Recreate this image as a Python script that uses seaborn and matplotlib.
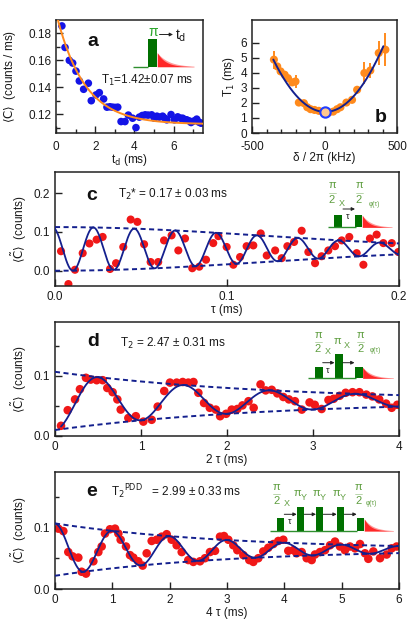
import numpy as np
import pandas as pd
import matplotlib
matplotlib.use("Agg")
import matplotlib.pyplot as plt
import seaborn as sns
from matplotlib.patches import Rectangle
from matplotlib.ticker import MultipleLocator, FixedLocator

# ---------------- data ----------------
# panel a: photon rate vs delay
t_a = [0.30, 0.46, 0.68, 0.85, 1.02, 1.19, 1.41, 1.65, 1.80, 2.04, 2.21, 2.43, 2.60, 2.75,
       2.89, 3.02, 3.15, 3.32, 3.52, 3.69, 3.91, 4.08, 4.25, 4.40, 4.55, 4.70, 4.88, 5.02,
       5.15, 5.27, 5.44, 5.55, 5.65, 5.87, 6.04, 6.21, 6.35, 6.46, 6.57, 6.67, 6.80, 6.89,
       7.05, 7.18, 7.30, 7.40]
rate_a = [0.1856, 0.1696, 0.160, 0.158, 0.152, 0.1447, 0.1385, 0.143, 0.130, 0.1343, 0.136,
          0.1313, 0.1252, 0.1255, 0.1252, 0.125, 0.1252, 0.1145, 0.1145, 0.1193, 0.117, 0.110,
          0.1178, 0.119, 0.1195, 0.1193, 0.1195, 0.117, 0.1185, 0.1178, 0.1185, 0.117, 0.1158,
          0.1197, 0.1158, 0.118, 0.117, 0.117, 0.116, 0.1158, 0.115, 0.1138, 0.115, 0.1163,
          0.114, 0.1133]
fit_a_T1 = 1.42
fit_a_amp = 0.083
fit_a_off = 0.1125

# panel b: T1 vs detuning
delta_b = [-349, -326, -303, -275, -252, -222, -200, -177, -142, -119, -96, -69, -39, 30, 60,
           87, 110, 151, 190, 225, 275, 316, 374, 420]
T1_b = [4.87, 4.42, 4.09, 3.87, 3.64, 3.36, 3.42, 2.02, 1.98, 1.71, 1.58, 1.53, 1.47, 1.36,
        1.42, 1.58, 1.71, 2.02, 2.20, 2.87, 3.98, 4.15, 5.31, 5.53]
err_b = [0.6, 0.2, 0.2, 0.2, 0.2, 0.2, 0.45, 0.2, 0.2, 0.15, 0.15, 0.15, 0.15, 0.15, 0.15,
         0.15, 0.15, 0.2, 0.2, 0.25, 0.7, 0.5, 0.8, 1.1]
ref_b_delta = [0]
ref_b_T1 = [1.40]
fit_b_T0 = 1.40
fit_b_d0 = 5.0
fit_b_k = 2.71e-5
fit_b_range = (-353, 406)

# panel c: Ramsey
tau_c = [0.0035, 0.0078, 0.0116, 0.0161, 0.0200, 0.0242, 0.0277, 0.0320, 0.0355, 0.0397,
         0.0440, 0.0479, 0.0518, 0.0556, 0.0600, 0.0634, 0.0678, 0.0717, 0.0756, 0.0798,
         0.0839, 0.0878, 0.0920, 0.0950, 0.0998, 0.1037, 0.1076, 0.1114, 0.1153, 0.1196,
         0.1231, 0.1280, 0.1318, 0.1351, 0.1390, 0.1434, 0.1473, 0.1512, 0.1550, 0.1589,
         0.1628, 0.1667, 0.1711, 0.1754, 0.1793, 0.1831, 0.1870, 0.1909, 0.1958, 0.1996]
C_c = [0.050, -0.035, 0.002, 0.045, 0.070, 0.080, 0.087, 0.004, 0.019, 0.061,
       0.132, 0.126, 0.068, 0.022, 0.022, 0.078, 0.091, 0.052, 0.083, 0.006,
       0.010, 0.028, 0.071, 0.089, 0.061, 0.015, 0.035, 0.063, 0.065, 0.096,
       0.039, 0.052, 0.032, 0.063, 0.074, 0.103, 0.048, 0.019, 0.037, 0.052,
       0.063, 0.078, 0.087, 0.045, 0.015, 0.083, 0.093, 0.071, 0.071, 0.048]
fit_c_off, fit_c_amp, fit_c_T2s, fit_c_period, fit_c_t0 = 0.056, 0.0565, 0.17, 0.0238, -0.0015

# panel d: Hahn echo
t2_d = [0.07, 0.148, 0.233, 0.29, 0.36, 0.415, 0.485, 0.555, 0.608, 0.67, 0.725, 0.764, 0.853,
        0.94, 1.027, 1.124, 1.194, 1.27, 1.337, 1.415, 1.485, 1.55, 1.61, 1.667, 1.733, 1.80,
        1.87, 1.92, 1.99, 2.055, 2.12, 2.18, 2.25, 2.31, 2.39, 2.45, 2.52, 2.585, 2.655, 2.72,
        2.79, 2.87, 2.96, 3.02, 3.10, 3.18, 3.24, 3.31, 3.38, 3.46, 3.54, 3.62, 3.69, 3.77,
        3.85, 3.915, 3.98]
C_d = [0.017, 0.043, 0.061, 0.078, 0.097, 0.094, 0.093, 0.093, 0.080, 0.073, 0.061, 0.044, 0.030,
       0.033, 0.024, 0.027, 0.049, 0.075, 0.089, 0.089, 0.090, 0.089, 0.090, 0.072, 0.055, 0.047,
       0.044, 0.033, 0.037, 0.044, 0.045, 0.051, 0.058, 0.047, 0.086, 0.076, 0.077, 0.071, 0.065,
       0.061, 0.058, 0.044, 0.056, 0.052, 0.045, 0.060, 0.062, 0.067, 0.072, 0.073, 0.073, 0.069,
       0.066, 0.061, 0.054, 0.047, 0.052]
fit_d_off, fit_d_amp, fit_d_T2, fit_d_period = 0.0585, 0.0485, 2.47, 1.0

# panel e: PDD
t4_e = [0.058, 0.145, 0.232, 0.308, 0.407, 0.465, 0.541, 0.669, 0.756, 0.814, 0.872, 0.959,
        1.047, 1.105, 1.145, 1.238, 1.308, 1.366, 1.453, 1.529, 1.599, 1.686, 1.773, 1.86,
        1.948, 2.035, 2.122, 2.21, 2.325, 2.413, 2.529, 2.616, 2.703, 2.791, 2.878, 2.948,
        3.023, 3.11, 3.18, 3.285, 3.389, 3.459, 3.546, 3.633, 3.72, 3.808, 3.895, 3.982,
        4.069, 4.157, 4.215, 4.302, 4.39, 4.477, 4.535, 4.622, 4.709, 4.797, 4.884, 4.971,
        5.058, 5.145, 5.233, 5.32, 5.407, 5.465, 5.552, 5.669, 5.785, 5.872, 5.959]
C_e = [0.098, 0.094, 0.060, 0.053, 0.051, 0.028, 0.025, 0.045, 0.060, 0.069, 0.090, 0.097,
       0.098, 0.090, 0.080, 0.069, 0.055, 0.051, 0.045, 0.038, 0.058, 0.078, 0.080, 0.085,
       0.089, 0.080, 0.071, 0.060, 0.047, 0.044, 0.045, 0.050, 0.060, 0.062, 0.085, 0.086,
       0.080, 0.071, 0.063, 0.055, 0.047, 0.044, 0.050, 0.061, 0.067, 0.073, 0.078, 0.080,
       0.062, 0.063, 0.058, 0.060, 0.050, 0.047, 0.056, 0.060, 0.063, 0.071, 0.077, 0.069,
       0.063, 0.069, 0.066, 0.073, 0.058, 0.049, 0.061, 0.050, 0.056, 0.066, 0.069]
fit_e_off, fit_e_amp, fit_e_T2, fit_e_period = 0.064, 0.0425, 2.99, 1.0

# ---------------- style ----------------
sns.set_theme(style="ticks")
plt.rcParams["font.family"] = ["Liberation Sans", "DejaVu Sans"]
plt.rcParams["axes.unicode_minus"] = False
plt.rcParams["mathtext.fontset"] = "dejavusans"

BLUE = "#1414e6"
ORANGE = "#ff8a1c"
RED = "#f01818"
NAVY = "#14208e"
DKGREEN = "#007000"
LTGREEN = "#5f9e40"
TXT = "#1a1a1a"
FS = 8.5

W, H = 416, 630
fig = plt.figure(figsize=(W / 100, H / 100), dpi=100)
fig.patch.set_facecolor("white")


def rect(l, t, r, b):
    return [l / W, 1 - b / H, (r - l) / W, (b - t) / H]


axa = fig.add_axes(rect(56, 20, 203, 133))
axb = fig.add_axes(rect(252, 20, 397, 133))
axc = fig.add_axes(rect(55, 172, 399, 286))
axd = fig.add_axes(rect(55, 322, 399, 436))
axe = fig.add_axes(rect(55, 472, 399, 589))


def style(ax):
    ax.set_facecolor("white")
    for s in ax.spines.values():
        s.set_visible(True)
        s.set_linewidth(1.1)
        s.set_color("#222222")
    ax.tick_params(which="both", direction="in", width=1.0, labelsize=FS,
                   colors="#222222", labelcolor=TXT, top=False, right=False)
    ax.tick_params(which="major", length=5)
    ax.tick_params(which="minor", length=3)
    ax.grid(False)


def dashed_env(ax, x, y):
    sns.lineplot(x=x, y=y, ax=ax, color=NAVY, lw=1.4, linestyle=(0, (2.6, 1.8)), zorder=3)


# ---- panel a ----
style(axa)
sns.scatterplot(x=t_a, y=rate_a, ax=axa, color=BLUE, s=30, edgecolor="none", zorder=2)
ta_fit = np.linspace(0, 7.5, 300)
sns.lineplot(x=ta_fit, y=fit_a_off + fit_a_amp * np.exp(-ta_fit / fit_a_T1), ax=axa,
             color=ORANGE, lw=1.4, zorder=3)
axa.set_xlim(0, 7.5)
axa.set_ylim(0.106, 0.19)
axa.xaxis.set_major_locator(FixedLocator([0, 2, 4, 6]))
axa.xaxis.set_minor_locator(FixedLocator([1, 3, 5, 7]))
axa.yaxis.set_major_locator(FixedLocator([0.12, 0.14, 0.16, 0.18]))
axa.yaxis.set_minor_locator(FixedLocator([0.11, 0.13, 0.15, 0.17]))
axa.tick_params(axis="x", which="both", pad=6)
axa.set_xlabel(r"t$_\mathrm{d}$ (ms)", fontsize=FS, color=TXT, labelpad=-1)
axa.set_ylabel(r"$\langle\dot{\mathrm{C}}\rangle$  (counts / ms)", fontsize=FS, color=TXT)
axa.yaxis.set_label_coords(-0.25, 0.5)

# ---- panel b ----
style(axb)
axb.errorbar(delta_b, T1_b, yerr=err_b, fmt="none", ecolor=ORANGE, elinewidth=1.4,
             capsize=0, zorder=2)
sns.scatterplot(x=delta_b, y=T1_b, ax=axb, color=ORANGE, s=34, edgecolor="none", zorder=2)
db_fit = np.linspace(fit_b_range[0], fit_b_range[1], 300)
sns.lineplot(x=db_fit, y=fit_b_T0 + fit_b_k * (db_fit - fit_b_d0) ** 2, ax=axb,
             color=NAVY, lw=1.4, zorder=3)
sns.scatterplot(x=ref_b_delta, y=ref_b_T1, ax=axb, marker="o", s=55, facecolor="#ffc890",
                edgecolor="#1f3cff", linewidth=1.5, zorder=4)
axb.set_xlim(-500, 500)
axb.set_ylim(0, 7.5)
axb.xaxis.set_major_locator(FixedLocator([-500, 0, 500]))
axb.xaxis.set_minor_locator(MultipleLocator(100))
axb.yaxis.set_major_locator(FixedLocator([0, 1, 2, 3, 4, 5, 6]))
axb.tick_params(axis="x", which="both", pad=6)
axb.set_xlabel("δ / 2π (kHz)", fontsize=FS, color=TXT, labelpad=-1)
axb.set_ylabel(r"T$_1$ (ms)", fontsize=FS, color=TXT)
axb.yaxis.set_label_coords(-0.105, 0.5)

# ---- panel c ----
style(axc)
sns.scatterplot(x=tau_c, y=C_c, ax=axc, color=RED, s=34, edgecolor="none", zorder=2)
tc = np.linspace(0, 0.2, 800)
env_c = fit_c_amp * np.exp(-(tc / fit_c_T2s) ** 2)
sns.lineplot(x=tc, y=fit_c_off + env_c * np.cos(2 * np.pi * (tc - fit_c_t0) / fit_c_period),
             ax=axc, color=NAVY, lw=1.3, zorder=3)
dashed_env(axc, tc, fit_c_off + env_c)
dashed_env(axc, tc, fit_c_off - env_c)
axc.set_xlim(0, 0.2)
axc.set_ylim(-0.04, 0.255)
axc.xaxis.set_major_locator(FixedLocator([0.0, 0.1, 0.2]))
axc.yaxis.set_major_locator(FixedLocator([0.0, 0.1, 0.2]))
axc.set_xlabel("τ (ms)", fontsize=FS, color=TXT, labelpad=1)
axc.set_ylabel(r"$\langle\tilde{\mathrm{C}}\rangle$  (counts)", fontsize=FS, color=TXT)
axc.yaxis.set_label_coords(-0.075, 0.5)

# ---- panel d ----
style(axd)
sns.scatterplot(x=t2_d, y=C_d, ax=axd, color=RED, s=38, edgecolor="none", zorder=2)
td = np.linspace(0.07, 4.0, 600)
env_d = fit_d_amp * np.exp(-td / fit_d_T2)
sns.lineplot(x=td, y=fit_d_off - env_d * np.cos(2 * np.pi * td / fit_d_period), ax=axd,
             color=NAVY, lw=1.3, zorder=3)
tdd = np.linspace(0, 4.0, 300)
dashed_env(axd, tdd, fit_d_off + fit_d_amp * np.exp(-tdd / fit_d_T2))
dashed_env(axd, tdd, fit_d_off - fit_d_amp * np.exp(-tdd / fit_d_T2))
axd.set_xlim(0, 4)
axd.set_ylim(0, 0.19)
axd.xaxis.set_major_locator(FixedLocator([0, 1, 2, 3, 4]))
axd.yaxis.set_major_locator(FixedLocator([0.0, 0.1]))
axd.yaxis.set_minor_locator(FixedLocator([0.05, 0.15]))
axd.set_xlabel("2 τ (ms)", fontsize=FS, color=TXT, labelpad=1)
axd.set_ylabel(r"$\langle\tilde{\mathrm{C}}\rangle$  (counts)", fontsize=FS, color=TXT)
axd.yaxis.set_label_coords(-0.075, 0.5)

# ---- panel e ----
style(axe)
sns.scatterplot(x=t4_e, y=C_e, ax=axe, color=RED, s=38, edgecolor="none", zorder=2)
te = np.linspace(0, 6.0, 800)
env_e = fit_e_amp * np.exp(-te / fit_e_T2)
sns.lineplot(x=te, y=fit_e_off + env_e * np.cos(2 * np.pi * te / fit_e_period), ax=axe,
             color=NAVY, lw=1.3, zorder=3)
dashed_env(axe, te, fit_e_off + env_e)
dashed_env(axe, te, fit_e_off - env_e)
axe.set_xlim(0, 6)
axe.set_ylim(0, 0.19)
axe.xaxis.set_major_locator(FixedLocator([0, 1, 2, 3, 4, 5, 6]))
axe.yaxis.set_major_locator(FixedLocator([0.0, 0.1]))
axe.yaxis.set_minor_locator(FixedLocator([0.05, 0.15]))
axe.set_xlabel("4 τ (ms)", fontsize=FS, color=TXT, labelpad=1)
axe.set_ylabel(r"$\langle\tilde{\mathrm{C}}\rangle$  (counts)", fontsize=FS, color=TXT)
axe.yaxis.set_label_coords(-0.075, 0.5)

for ax in (axa, axb, axc, axd, axe):
    leg = ax.get_legend()
    if leg is not None:
        leg.remove()

# ---------------- overlay: labels and pulse-sequence insets (pixel coords) ----------------
ov = fig.add_axes([0, 0, 1, 1], zorder=10)
ov.set_xlim(0, W)
ov.set_ylim(H, 0)
ov.axis("off")
ov.patch.set_alpha(0)


def bar(x0, x1, ytop, ybot):
    ov.add_patch(Rectangle((x0, ytop), x1 - x0, ybot - ytop, color=DKGREEN, lw=0))


def decay(x0, x1, ybase, h):
    xs = np.linspace(x0, x1, 80)
    ys = ybase - h * np.exp(-(xs - x0) / ((x1 - x0) / 3.2))
    ov.fill_between(xs, ybase, ys, color="#ff9a9a", lw=0)
    ys2 = ybase - h * np.exp(-(xs - x0) / ((x1 - x0) / 4.5))
    ov.fill_between(xs, ybase, ys2, color="#ff2828", lw=0)


def baseline(x0, x1, y):
    ov.plot([x0, x1], [y, y], color="#2f8f2f", lw=1.0, solid_capstyle="butt")


def arrow(x0, x1, y):
    ov.annotate("", xy=(x1, y), xytext=(x0, y),
                arrowprops=dict(arrowstyle="-|>", color="#222222", lw=0.7,
                                mutation_scale=5, shrinkA=0, shrinkB=0))


def frac(x, ynum, yden, fs=8):
    ov.text(x, ynum, "π", color=LTGREEN, fontsize=fs, ha="center", va="center")
    ov.text(x, yden, "2", color=LTGREEN, fontsize=fs, ha="center", va="center")
    ym = (ynum + yden) / 2 + 0.5
    ov.plot([x - 3.5, x + 3.5], [ym, ym], color=LTGREEN, lw=0.5, alpha=0.6)


def sub(x, y, s, fs=6.5):
    ov.text(x, y, s, color=LTGREEN, fontsize=fs, ha="center", va="center")


# panel letters
for (x, y, s) in [(93, 41, "a"), (381, 117, "b"), (92, 195, "c"), (93, 342, "d"), (92, 492, "e")]:
    ov.text(x, y, s, fontsize=14, weight="bold", ha="center", va="center", color="#111111")

# panel a text and inset
ov.text(101, 80, r"T$_1$=1.42±0.07 ms", fontsize=FS, ha="left", va="center", color=TXT)
baseline(133, 148.3, 66.7)
decay(157.3, 194, 66.7, 14)
bar(148.3, 157.3, 39.3, 66.7)
ov.text(153, 31.5, "π", color="#2aa52a", fontsize=10, ha="center", va="center")
arrow(159.5, 173, 34.5)
ov.text(175, 35.5, r"t$_\mathrm{d}$", fontsize=10, ha="left", va="center", color=TXT)

# panel c text and inset
ov.text(118, 194, r"T$_2$* = 0.17 ± 0.03 ms", fontsize=FS, ha="left", va="center", color=TXT)
frac(332, 185, 200)
sub(342, 204, "X")
frac(359, 185, 200)
sub(374, 204, "φ(τ)", fs=4.8)
arrow(343, 355, 209)
ov.text(348, 216.5, "τ", fontsize=6.5, ha="center", va="center", color=TXT)
baseline(328, 356, 227.3)
decay(362.3, 392, 227.3, 12)
bar(334, 341.7, 215, 227.3)
bar(355, 362.3, 215, 227.3)

# panel d text and inset
ov.text(120, 343, r"T$_2$ = 2.47 ± 0.31 ms", fontsize=FS, ha="left", va="center", color=TXT)
frac(318, 335, 348.5)
sub(328, 351, "X")
ov.text(337, 341, "π", color=LTGREEN, fontsize=8, ha="center", va="center")
sub(347, 345.5, "X")
frac(360.5, 335, 348.5)
sub(375, 351, "φ(τ)", fs=4.8)
arrow(322.7, 334.5, 362.7)
arrow(342.7, 354.5, 362.7)
ov.text(328, 370.5, "τ", fontsize=6.5, ha="center", va="center", color=TXT)
baseline(308, 356, 378.3)
decay(362.7, 393.3, 378.3, 11)
bar(315, 322.7, 366.7, 378.3)
bar(335, 342.7, 354.3, 378.3)
bar(355, 362.7, 366.7, 378.3)

# panel e text and inset
ov.text(111, 492, r"T$_2{}^{\mathrm{PDD}}$   = 2.99 ± 0.33 ms", fontsize=FS,
        ha="left", va="center", color=TXT)
frac(276.7, 487.3, 500.5)
sub(286.5, 503.5, "X")
for xp in (297.3, 316.5, 336.5):
    ov.text(xp, 493.5, "π", color=LTGREEN, fontsize=8, ha="center", va="center")
    sub(xp + 6.3, 497, "Y")
frac(358.3, 487.3, 500.5)
sub(371, 503.5, "φ(τ)", fs=4.8)
for (x0, x1) in [(284.3, 296.7), (304.3, 316), (323.3, 336.7), (344.3, 356.7)]:
    arrow(x0, x1, 514.3)
ov.text(290, 522, "τ", fontsize=6.5, ha="center", va="center", color=TXT)
baseline(270, 357, 531)
decay(364.3, 393.3, 531, 12)
bar(276.7, 284.3, 518.3, 531)
bar(296.7, 304.3, 506.7, 531)
bar(316, 323.3, 506.7, 531)
bar(336.7, 344.3, 506.7, 531)
bar(356.7, 364.3, 518.3, 531)

fig.savefig("out.png", dpi=100, facecolor="white")
